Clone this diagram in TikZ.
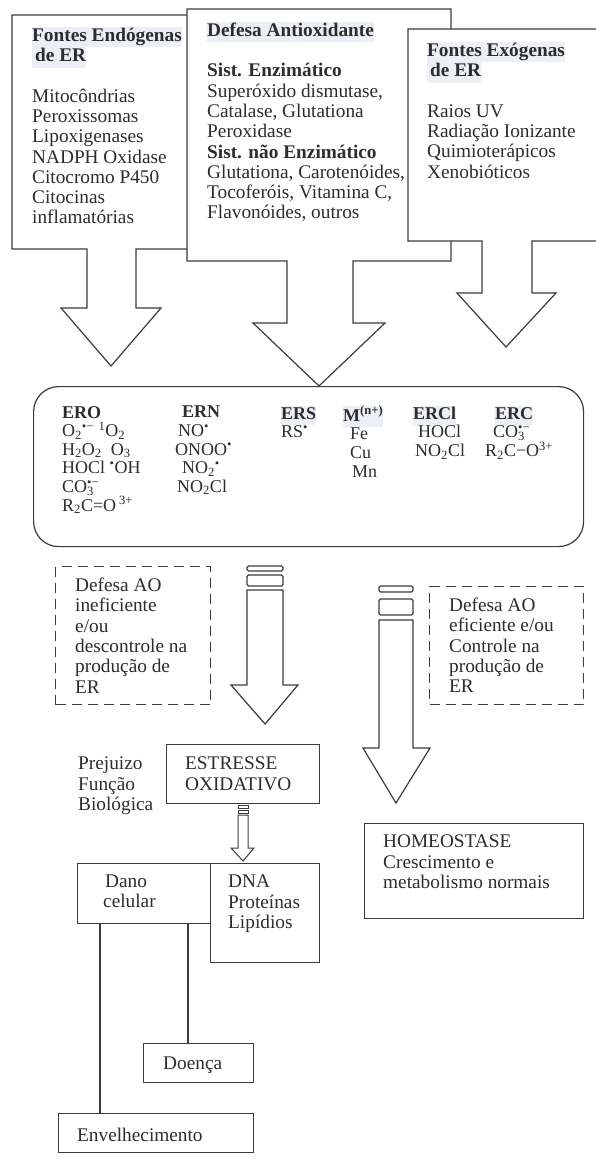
\documentclass[tikz,border=0pt]{standalone}
\usepackage{fontspec}
\setmainfont{Liberation Serif}
\usetikzlibrary{calc}
\definecolor{ln}{RGB}{60,60,60}
\definecolor{tx}{RGB}{45,45,45}
\definecolor{hl}{RGB}{236,239,245}
\newcommand\rdot{\textsuperscript{•}}
\newcommand\sbs[1]{\textsubscript{#1}}
\newcommand\sps[1]{\textsuperscript{#1}}
\newcommand\hlb[1]{{\fboxsep=0pt\colorbox{hl}{\strut\textbf{#1}}}}
\begin{document}
\begin{tikzpicture}[x=1pt,y=-1pt,line join=miter,
  shp/.style={draw=ln,line width=1.2pt,fill=white},
  txt/.style={inner sep=0pt,anchor=north west,yshift=14.21pt,align=left,text=tx,font=\fontsize{19.3}{20.3}\selectfont,execute at begin node=\strut},
  stxt/.style={txt,yshift=-1.19pt,font=\fontsize{18}{18.6}\selectfont},
  bx/.style={draw=ln,line width=1.2pt,fill=white,inner sep=0pt,anchor=north west},
  dbx/.style={bx,dash pattern=on 10pt off 6pt},
  lnk/.style={draw=ln,line width=1.2pt}]
\useasboundingbox (0,0) rectangle (596,1160);

% --- top callout boxes ---
\draw[shp] (12,15) -- (200,15) -- (200,249) -- (136,249) -- (136,308) -- (161,308) -- (111,366) -- (61,308) -- (87,308) -- (87,249) -- (12,249) -- cycle;
\node[txt] (endo) at (32,41) {\hlb{Fontes Endógenas}\\\hlb{\hspace*{3pt}de ER}\\[20.3pt]Mitocôndrias\\Peroxissomas\\Lipoxigenases\\NADPH Oxidase\\Citocromo P450\\Citocinas\\inflamatórias};

\draw[shp] (187,9) -- (451,9) -- (451,261) -- (353,261) -- (353,323) -- (385,323) -- (319,386) -- (253,323) -- (287,323) -- (287,261) -- (187,261) -- cycle;
\node[txt] (defesa) at (207,36) {\hlb{Defesa Antioxidante}\\[20.3pt]\textbf{Sist. Enzimático}\\Superóxido dismutase,\\Catalase, Glutationa\\Peroxidase\\\textbf{Sist. não Enzimático}\\Glutationa, Carotenóides,\\Tocoferóis, Vitamina C,\\Flavonóides, outros};

\draw[shp] (408,29) -- (600,29) -- (600,241) -- (532,241) -- (532,293) -- (556,293) -- (506,347) -- (457,293) -- (482,293) -- (482,241) -- (408,241) -- cycle;
\node[txt] (exo) at (427,56) {\hlb{Fontes Exógenas}\\\hlb{\hspace*{3pt}de ER}\\[20.3pt]Raios UV\\Radiação Ionizante\\Quimioterápicos\\Xenobióticos};

% --- reactive species box ---
\node[bx,rounded corners=25pt,minimum width=550pt,minimum height=160pt] (esp) at (33,386) {};
\node[stxt] (ero) at (62,419) {\textbf{ERO}\\O\sbs{2}\sps{•−} \sps{1}O\sbs{2}\\H\sbs{2}O\sbs{2}\enspace O\sbs{3}\\HOCl \rdot OH\\CO\rlap{\sbs{3}}\sps{•−}\\R\sbs{2}C=O\,\sps{3+}};
\node[stxt] (ern) at (175,419) {\hspace*{7pt}\textbf{ERN}\\\hspace*{3pt}NO\rdot\\ONOO\rdot\\\hspace*{7pt}NO\sbs{2}\rdot\\\hspace*{2pt}NO\sbs{2}Cl};
\node[stxt] (ers) at (281,419) {\hlb{ERS}\\RS\rdot};
\node[stxt] (met) at (343,419) {\hlb{M\sps{(n+)}}\\\hspace*{7pt}Fe\\\hspace*{7pt}Cu\\\hspace*{9pt}Mn};
\node[stxt] (ercl) at (413,419) {\hlb{ERCl}\\\hspace*{5pt}HOCl\\\hspace*{2pt}NO\sbs{2}Cl};
\node[stxt] (erc) at (485,419) {\hspace*{10pt}\hlb{ERC}\\\hspace*{8pt}CO\rlap{\sbs{3}}\sps{•−}\\R\sbs{2}C−O\sps{3+}};

% --- dashed condition boxes ---
\node[dbx,minimum width=155pt,minimum height=138pt] (dl) at (55,566) {};
\node[txt] (dlt) at (75,592) {Defesa AO\\ineficiente\\e/ou\\descontrole na\\produção de\\ER};
\node[dbx,minimum width=154pt,minimum height=118pt] (dr) at (429,586) {};
\node[txt] (drt) at (449,612) {Defesa AO\\eficiente e/ou\\Controle na\\produção de\\ER};

% --- hollow arrows ---
\draw[shp,rounded corners=1.5pt] (247,566) rectangle (283,571);
\draw[shp,rounded corners=1.5pt] (247,575) rectangle (283,586);
\draw[shp] (247,590) -- (283,590) -- (283,685) -- (298,685) -- (265,724) -- (231,685) -- (247,685) -- cycle;
\draw[shp,rounded corners=1.5pt] (379,586) rectangle (413,592);
\draw[shp,rounded corners=1.5pt] (379,599) rectangle (413,615);
\draw[shp] (379,620) -- (413,620) -- (413,748) -- (430,748) -- (396,803) -- (363,748) -- (379,748) -- cycle;

% --- lower part ---
\node[txt] (prej) at (78,771) {Prejuizo\\Função\\Biológica};
\node[bx,minimum width=153pt,minimum height=59pt] (est) at (166,744) {};
\node[txt] (estt) at (185,771) {ESTRESSE\\OXIDATIVO};
\draw[shp,line width=1pt] (238,805) rectangle (248,808);
\draw[shp,line width=1pt] (238,810) rectangle (248,813);
\draw[shp,line width=1pt] (238,815) -- (248,815) -- (248,848) -- (254,848) -- (243,861) -- (231,848) -- (238,848) -- cycle;

\node[bx,minimum width=133pt,minimum height=60pt] (dano) at (77,863) {};
\node[txt] (danot) at (103,889) {\hspace*{2pt}Dano\\celular};
\node[bx,minimum width=109pt,minimum height=99pt] (dna) at (210,863) {};
\node[txt] (dnat) at (228,889) {DNA\\Proteínas\\Lipídios};

\node[bx,minimum width=110pt,minimum height=39pt] (doenca) at (143,1043) {};
\node[txt] (doencat) at (163,1069) {Doença};
\node[bx,minimum width=195pt,minimum height=39pt] (envel) at (58,1113) {};
\node[txt] (envelt) at (77,1141) {Envelhecimento};
\draw[lnk] ([xshift=23pt]dano.south west) -- ([xshift=23pt]dano.south west |- envel.north);
\draw[lnk] ([xshift=111pt]dano.south west) -- ([xshift=111pt]dano.south west |- doenca.north);

\node[bx,minimum width=219pt,minimum height=95pt] (homeo) at (364,823) {};
\node[txt] (homeot) at (383,849) {HOMEOSTASE\\Crescimento e\\metabolismo normais};
\end{tikzpicture}
\end{document}
